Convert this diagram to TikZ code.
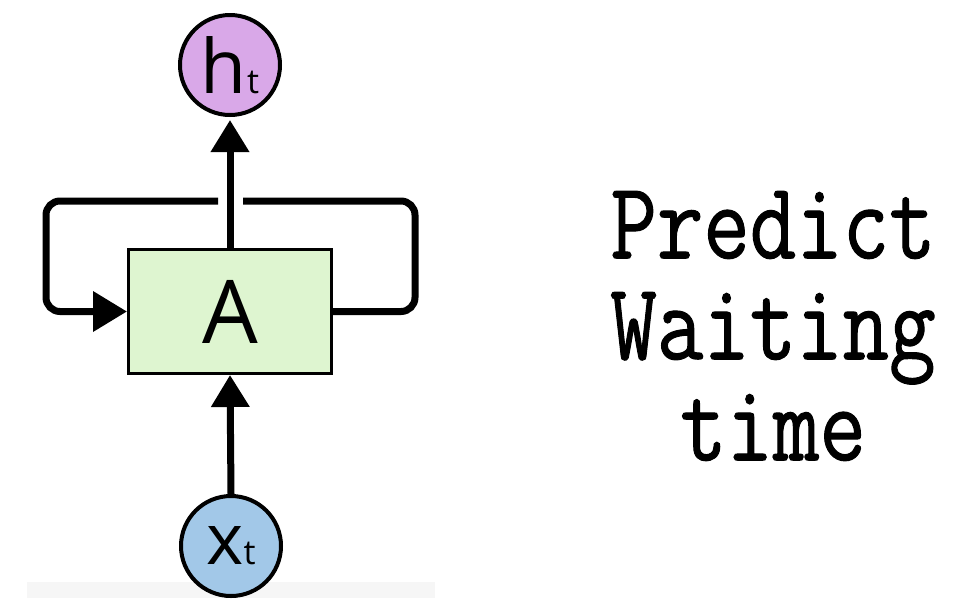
\documentclass[tikz,border=0pt]{standalone}
\usepackage{fontspec}
\usetikzlibrary{arrows.meta}
\newfontfamily\labelfont{Open Sans}
\newfontfamily\typefont[FakeStretch=0.82,FakeBold=0.9]{Latin Modern Mono}
\definecolor{hcol}{RGB}{217,168,232}
\definecolor{xcol}{RGB}{162,200,232}
\definecolor{acol}{RGB}{222,245,208}
\tikzset{
  statenode/.style={circle, draw=black, line width=4pt, minimum size=100pt, inner sep=0pt, font=\labelfont},
  cellnode/.style={rectangle, draw=black, line width=3pt, fill=acol, minimum width=203pt, minimum height=124pt, inner sep=0pt, font=\labelfont\fontsize{88}{88}\selectfont},
  flowline/.style={line width=7pt, -{Triangle[width=37pt,length=32pt]}},
  loopline/.style={line width=7pt, rounded corners=14pt}
}
\begin{document}
\begin{tikzpicture}[x=1pt,y=-1pt]
\useasboundingbox (0,0) rectangle (963,598);

\fill[gray!7] (27,582) rectangle (435,598);

\node[cellnode] (A) at (230,311.5) {A};
\node[statenode, fill=hcol] (h) at (230,65) {{\fontsize{75}{75}\selectfont h}{\fontsize{34}{34}\selectfont t}};
\node[statenode, fill=xcol] (x) at (231,546) {{\fontsize{71}{71}\selectfont x}{\fontsize{34}{34}\selectfont t}};

\coordinate (loopR) at (415,201);
\coordinate (loopL) at (46,201);
\coordinate (gapR) at (243,201);
\coordinate (gapL) at (218,201);

\draw[flowline] (x.north) -- (A.south);
\draw[flowline, shorten >=3pt] (A.north) -- (h.south);
\draw[loopline] (A.east) -| (loopR) -- (gapR);
\draw[loopline, -{Triangle[width=39pt,length=34pt]}] (gapL) -- (loopL) |- (A.west);

\node[font=\typefont\fontsize{110}{101}\selectfont, align=center] (pred) at (773,326) {Predict\\Waiting\\time};
\end{tikzpicture}
\end{document}
